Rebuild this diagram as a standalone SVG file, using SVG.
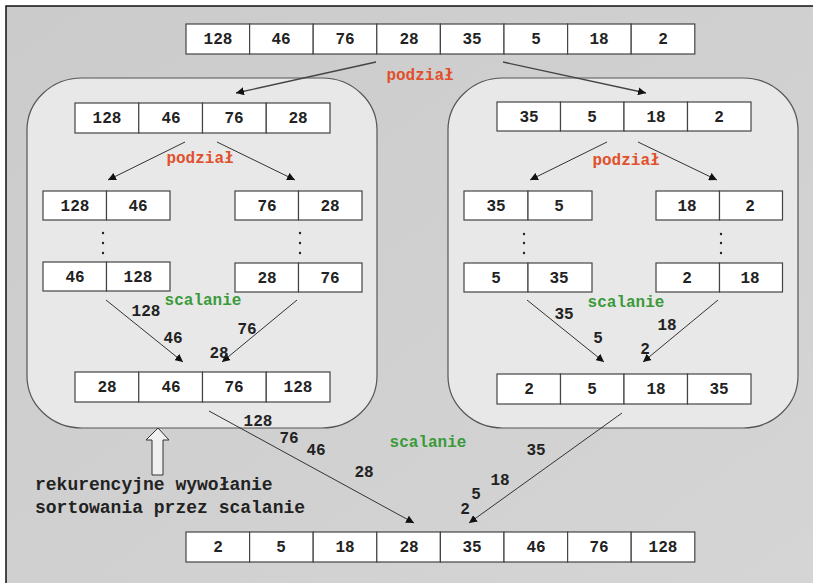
<svg xmlns="http://www.w3.org/2000/svg" width="813" height="583" viewBox="0 0 813 583">
<defs>
<linearGradient id="bg" x1="0" y1="0" x2="1" y2="1">
<stop offset="0" stop-color="#cbcbcb"/>
<stop offset="1" stop-color="#d5d5d5"/>
</linearGradient>
<marker id="ah" markerUnits="userSpaceOnUse" markerWidth="9" markerHeight="8" refX="8" refY="4" orient="auto">
<path d="M0,0 L8,4 L0,8 z" fill="#111"/>
</marker>
<style>
.cell{fill:#fff;stroke:#444;stroke-width:1.2}
.num{font-family:"Liberation Mono","Courier New",monospace;font-weight:bold;font-size:16px;fill:#222;text-anchor:middle}
.lbl{font-family:"Liberation Mono","Courier New",monospace;font-weight:bold;font-size:16px;fill:#222;text-anchor:middle}
.red{font-family:"Liberation Mono","Courier New",monospace;font-weight:bold;font-size:16px;fill:#e0502c;text-anchor:middle}
.grn{font-family:"Liberation Mono","Courier New",monospace;font-weight:bold;font-size:16px;fill:#3a9a3a;text-anchor:middle}
.box{fill:#e8e8e8;stroke:#555;stroke-width:1.2}
.arr{stroke:#333;stroke-width:1;fill:none;marker-end:url(#ah)}
.arr2{stroke:#444;stroke-width:1.3;fill:none;marker-end:url(#ah)}
.dot{fill:#222}
.note{font-family:"Liberation Mono","Courier New",monospace;font-weight:bold;font-size:18px;fill:#222}
</style>
</defs>
<rect x="0" y="0" width="813" height="583" fill="#fff"/>
<rect x="6" y="6" width="807" height="577" fill="url(#bg)"/>
<path d="M6,583 L6,6 L813,6" fill="none" stroke="#111" stroke-width="1.5"/>

<g id="box-left"><rect class="box" x="27" y="78" width="350" height="350" rx="55" ry="52"/></g>
<g id="box-right"><rect class="box" x="448" y="78" width="350" height="350" rx="55" ry="52"/></g>

<g id="top-array">
<rect class="cell" x="186" y="24" width="63.6" height="30"/>
<rect class="cell" x="249.6" y="24" width="63.6" height="30"/>
<rect class="cell" x="313.2" y="24" width="63.6" height="30"/>
<rect class="cell" x="376.8" y="24" width="63.6" height="30"/>
<rect class="cell" x="440.4" y="24" width="63.6" height="30"/>
<rect class="cell" x="504" y="24" width="63.6" height="30"/>
<rect class="cell" x="567.6" y="24" width="63.6" height="30"/>
<rect class="cell" x="631.2" y="24" width="63.6" height="30"/>
<text class="num" x="218" y="44">128</text>
<text class="num" x="281" y="44">46</text>
<text class="num" x="345" y="44">76</text>
<text class="num" x="409" y="44">28</text>
<text class="num" x="472" y="44">35</text>
<text class="num" x="536" y="44">5</text>
<text class="num" x="599" y="44">18</text>
<text class="num" x="663" y="44">2</text>
</g>

<g id="left-l1">
<rect class="cell" x="75" y="103" width="63.75" height="30"/>
<rect class="cell" x="138.75" y="103" width="63.75" height="30"/>
<rect class="cell" x="202.5" y="103" width="63.75" height="30"/>
<rect class="cell" x="266.25" y="103" width="63.75" height="30"/>
<text class="num" x="107" y="123">128</text>
<text class="num" x="171" y="123">46</text>
<text class="num" x="234" y="123">76</text>
<text class="num" x="298" y="123">28</text>
</g>
<g id="left-l2a">
<rect class="cell" x="43" y="191" width="63.5" height="29"/>
<rect class="cell" x="106.5" y="191" width="63.5" height="29"/>
<text class="num" x="75" y="211">128</text>
<text class="num" x="138" y="211">46</text>
</g>
<g id="left-l2b">
<rect class="cell" x="235" y="191" width="63.5" height="29"/>
<rect class="cell" x="298.5" y="191" width="63.5" height="29"/>
<text class="num" x="267" y="211">76</text>
<text class="num" x="330" y="211">28</text>
</g>
<g id="left-dots">
<circle class="dot" cx="103" cy="233" r="1.2"/><circle class="dot" cx="103" cy="243" r="1.2"/><circle class="dot" cx="103" cy="253" r="1.2"/>
<circle class="dot" cx="300" cy="233" r="1.2"/><circle class="dot" cx="300" cy="243" r="1.2"/><circle class="dot" cx="300" cy="253" r="1.2"/>
</g>
<g id="left-l3a">
<rect class="cell" x="43" y="262" width="63.5" height="29"/>
<rect class="cell" x="106.5" y="262" width="63.5" height="29"/>
<text class="num" x="75" y="282">46</text>
<text class="num" x="138" y="282">128</text>
</g>
<g id="left-l3b">
<rect class="cell" x="235" y="263" width="63.5" height="29"/>
<rect class="cell" x="298.5" y="263" width="63.5" height="29"/>
<text class="num" x="267" y="283">28</text>
<text class="num" x="330" y="283">76</text>
</g>
<g id="left-l4">
<rect class="cell" x="75" y="372" width="63.75" height="30"/>
<rect class="cell" x="138.75" y="372" width="63.75" height="30"/>
<rect class="cell" x="202.5" y="372" width="63.75" height="30"/>
<rect class="cell" x="266.25" y="372" width="63.75" height="30"/>
<text class="num" x="107" y="392">28</text>
<text class="num" x="171" y="392">46</text>
<text class="num" x="234" y="392">76</text>
<text class="num" x="298" y="392">128</text>
</g>

<g id="right-l1">
<rect class="cell" x="497" y="102" width="63.5" height="29"/>
<rect class="cell" x="560.5" y="102" width="63.5" height="29"/>
<rect class="cell" x="624" y="102" width="63.5" height="29"/>
<rect class="cell" x="687.5" y="102" width="63.5" height="29"/>
<text class="num" x="529" y="122">35</text>
<text class="num" x="592" y="122">5</text>
<text class="num" x="656" y="122">18</text>
<text class="num" x="719" y="122">2</text>
</g>
<g id="right-l2a">
<rect class="cell" x="464" y="191" width="64" height="29"/>
<rect class="cell" x="528" y="191" width="64" height="29"/>
<text class="num" x="496" y="211">35</text>
<text class="num" x="559" y="211">5</text>
</g>
<g id="right-l2b">
<rect class="cell" x="656" y="191" width="63.5" height="29"/>
<rect class="cell" x="719.5" y="191" width="63" height="29"/>
<text class="num" x="687" y="211">18</text>
<text class="num" x="750" y="211">2</text>
</g>
<g id="right-dots">
<circle class="dot" cx="524" cy="234" r="1.2"/><circle class="dot" cx="524" cy="243" r="1.2"/><circle class="dot" cx="524" cy="253" r="1.2"/>
<circle class="dot" cx="721" cy="234" r="1.2"/><circle class="dot" cx="721" cy="243" r="1.2"/><circle class="dot" cx="721" cy="253" r="1.2"/>
</g>
<g id="right-l3a">
<rect class="cell" x="464" y="263" width="64" height="29"/>
<rect class="cell" x="528" y="263" width="64" height="29"/>
<text class="num" x="496" y="283">5</text>
<text class="num" x="559" y="283">35</text>
</g>
<g id="right-l3b">
<rect class="cell" x="656" y="263" width="63.5" height="29"/>
<rect class="cell" x="719.5" y="263" width="63" height="29"/>
<text class="num" x="687" y="283">2</text>
<text class="num" x="750" y="283">18</text>
</g>
<g id="right-l4">
<rect class="cell" x="497" y="374" width="63.5" height="30"/>
<rect class="cell" x="560.5" y="374" width="63.5" height="30"/>
<rect class="cell" x="624" y="374" width="63.5" height="30"/>
<rect class="cell" x="687.5" y="374" width="63.5" height="30"/>
<text class="num" x="529" y="394">2</text>
<text class="num" x="592" y="394">5</text>
<text class="num" x="656" y="394">18</text>
<text class="num" x="719" y="394">35</text>
</g>

<g id="bottom-array">
<rect class="cell" x="186" y="532" width="63.6" height="30"/>
<rect class="cell" x="249.6" y="532" width="63.6" height="30"/>
<rect class="cell" x="313.2" y="532" width="63.6" height="30"/>
<rect class="cell" x="376.8" y="532" width="63.6" height="30"/>
<rect class="cell" x="440.4" y="532" width="63.6" height="30"/>
<rect class="cell" x="504" y="532" width="63.6" height="30"/>
<rect class="cell" x="567.6" y="532" width="63.6" height="30"/>
<rect class="cell" x="631.2" y="532" width="63.6" height="30"/>
<text class="num" x="218" y="552">2</text>
<text class="num" x="281" y="552">5</text>
<text class="num" x="345" y="552">18</text>
<text class="num" x="409" y="552">28</text>
<text class="num" x="472" y="552">35</text>
<text class="num" x="536" y="552">46</text>
<text class="num" x="599" y="552">76</text>
<text class="num" x="663" y="552">128</text>
</g>

<g id="connectors">
<line class="arr2" x1="376" y1="62" x2="236" y2="93"/>
<line class="arr2" x1="503" y1="62" x2="646" y2="93"/>
<line class="arr" x1="185" y1="142" x2="108" y2="180"/>
<line class="arr" x1="217" y1="142" x2="295" y2="180"/>
<line class="arr" x1="607" y1="142" x2="530" y2="180"/>
<line class="arr" x1="638" y1="142" x2="717" y2="180"/>
<line class="arr" x1="106" y1="300" x2="183" y2="362"/>
<line class="arr" x1="297" y1="300" x2="222" y2="362"/>
<line class="arr" x1="527" y1="300" x2="604" y2="362"/>
<line class="arr" x1="718" y1="300" x2="643" y2="362"/>
<line class="arr" x1="209" y1="411" x2="414" y2="523"/>
<line class="arr" x1="622" y1="413" x2="469" y2="523"/>
</g>

<g id="labels">
<text class="red" x="420" y="80">podział</text>
<text class="red" x="200" y="163">podział</text>
<text class="red" x="626" y="165">podział</text>
<text class="grn" x="203" y="305">scalanie</text>
<text class="grn" x="626" y="307">scalanie</text>
<text class="grn" x="428" y="447">scalanie</text>
<text class="lbl" x="146" y="316">128</text>
<text class="lbl" x="173" y="343">46</text>
<text class="lbl" x="247" y="334">76</text>
<text class="lbl" x="219" y="358">28</text>
<text class="lbl" x="564" y="319">35</text>
<text class="lbl" x="598" y="343">5</text>
<text class="lbl" x="667" y="330">18</text>
<text class="lbl" x="645" y="354">2</text>
<text class="lbl" x="258" y="426">128</text>
<text class="lbl" x="289" y="443">76</text>
<text class="lbl" x="316" y="455">46</text>
<text class="lbl" x="364" y="477">28</text>
<text class="lbl" x="536" y="455">35</text>
<text class="lbl" x="500" y="485">18</text>
<text class="lbl" x="476" y="499">5</text>
<text class="lbl" x="465" y="514">2</text>
</g>

<g id="recursion-note">
<path d="M158,428 L169,440 L163,440 L163,475 L152,475 L152,440 L146,440 Z" fill="#f0f0f0" stroke="#333" stroke-width="1"/>
<text class="note" x="35" y="490">rekurencyjne wywołanie</text>
<text class="note" x="35" y="513">sortowania przez scalanie</text>
</g>
</svg>
